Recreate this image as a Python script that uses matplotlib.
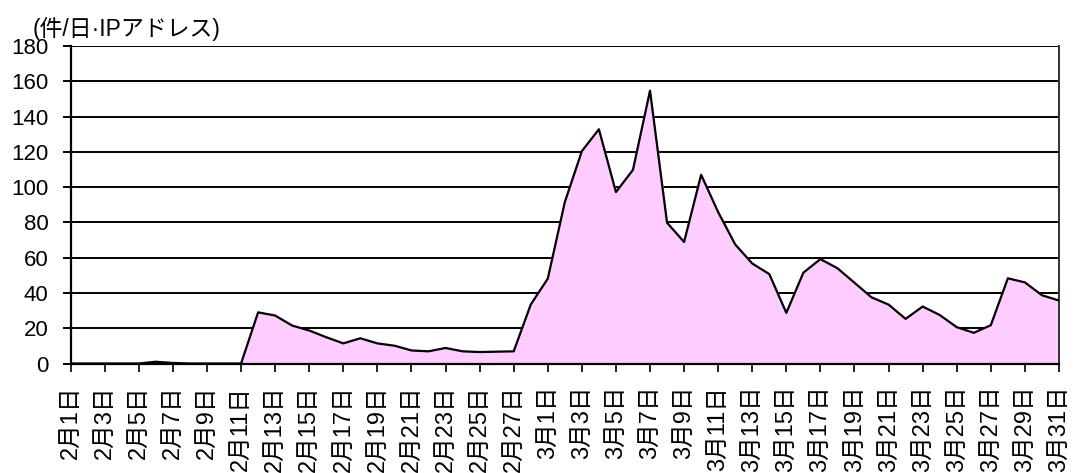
import numpy as np
import matplotlib
matplotlib.use("Agg")
import matplotlib.pyplot as plt

plt.rcParams['font.family'] = ['Liberation Sans', 'Noto Sans CJK JP', 'DejaVu Sans']

# daily counts per IP address, Feb 1 - Mar 31
feb = [0, 0, 0, 0, 0, 1, 0.3, 0, 0, 0, 0,
       29, 27.2, 21.5, 18.7, 14.9, 11.4, 14.3, 11.4, 10.1, 7.4, 6.9,
       8.8, 6.9, 6.5, 6.7, 6.9, 33.4]
mar = [48.1, 91.5, 120.4, 132.8, 97.2, 109.8, 154.7, 79.8, 68.9, 107,
       85.8, 67.5, 56.7, 50.7, 28.7, 51.5, 59.2, 54, 45.8, 37.5,
       33.4, 25.3, 32.3, 27.5, 20.6, 17.4, 21.7, 48.3, 46, 38.7, 35.7]
labels = ["2月%d日" % d for d in range(1, 29)] + ["3月%d日" % d for d in range(1, 32)]
values = feb + mar
title = "(件/日·IPアドレス)"

x = np.arange(len(values))

fig = plt.figure(figsize=(10.74, 4.73), dpi=100)
ax = fig.add_axes([0.0658, 0.2315, 0.9202, 0.6712])

ax.fill_between(x, values, 0, color="#FFCCFF", zorder=2)
ax.plot(x, values, color="black", lw=1.6, zorder=3)

ax.set_xlim(0, len(values) - 1)
ax.set_ylim(0, 180)
ax.set_yticks(np.arange(0, 181, 20))
ax.yaxis.grid(True, color="black", lw=1.4, zorder=1)
ax.set_axisbelow(True)

ax.set_xticks(x[::2])
ax.set_xticklabels(labels[::2], rotation=90, ha="center", va="top")

for s in ["left", "bottom"]:
    ax.spines[s].set_linewidth(1.6)
    ax.spines[s].set_zorder(4)
ax.spines["right"].set_linewidth(1.4)
ax.spines["right"].set_color("#333333")
ax.spines["top"].set_visible(False)

ax.tick_params(axis="y", length=6, width=1.4, pad=10, labelsize=16)
ax.tick_params(axis="x", length=6, width=1.2, pad=10, labelsize=17)

fig.text(33 / 1074, 1 - 36 / 473, title, fontsize=16.5, ha="left", va="baseline")

fig.savefig("out.png", dpi=100)
